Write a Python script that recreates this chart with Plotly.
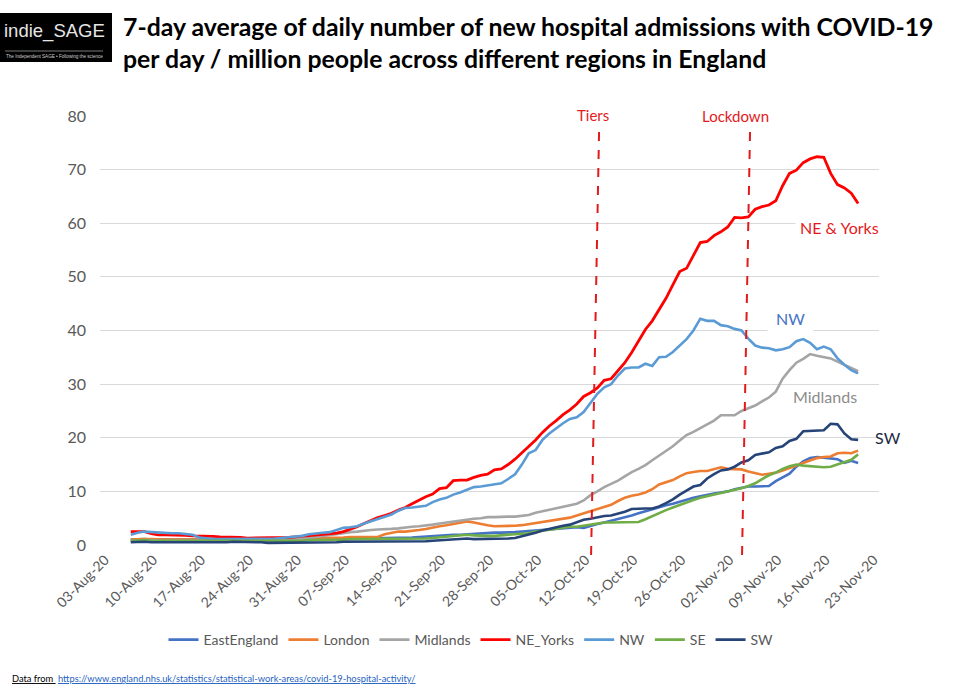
import pandas as pd
import plotly.graph_objects as go

# ---------------- data (7-day average admissions per million) ----------------
start_date = "2020-08-06"
n_days = 107

east_england = [
    1.0, 1.1, 1.1, 1.0, 1.0, 0.9, 0.9,
    0.9, 0.9, 0.9, 0.9, 0.9, 0.9, 0.9,
    0.9, 0.9, 1.0, 1.0, 1.0, 1.0, 0.9,
    0.9, 0.9, 0.9, 0.9, 0.9, 1.0, 1.0,
    1.0, 1.0, 1.1, 1.1, 1.1, 1.2, 1.2,
    1.2, 1.2, 1.3, 1.3, 1.3, 1.4, 1.4,
    1.5, 1.6, 1.7, 1.7, 1.8, 1.9, 1.9,
    2.0, 2.0, 2.1, 2.2, 2.3, 2.3, 2.3,
    2.4, 2.5, 2.6, 2.7, 2.8, 3.0, 3.1,
    3.2, 3.3, 3.3, 3.2, 3.6, 3.9, 4.2,
    4.5, 4.9, 5.2, 5.5, 5.9, 6.3, 6.7,
    7.0, 7.4, 7.7, 8.1, 8.5, 8.8, 9.1,
    9.4, 9.6, 9.8, 10.0, 10.4, 10.7, 10.9,
    10.9, 10.9, 11.0, 11.9, 12.6, 13.3, 14.6,
    15.6, 16.2, 16.4, 16.3, 16.1, 16.0, 15.3,
    15.7, 15.3,
]

london = [
    1.0, 1.1, 1.1, 1.1, 1.0, 1.0, 1.0,
    1.0, 1.0, 1.0, 1.0, 1.0, 1.0, 1.0,
    0.9, 0.9, 0.9, 0.9, 0.9, 0.9, 0.9,
    0.9, 1.0, 1.0, 1.0, 1.1, 1.1, 1.2,
    1.3, 1.3, 1.4, 1.4, 1.5, 1.5, 1.5,
    1.5, 1.5, 2.0, 2.3, 2.5, 2.5, 2.6,
    2.8, 3.0, 3.3, 3.5, 3.7, 3.9, 4.2,
    4.4, 4.2, 3.9, 3.7, 3.5, 3.5, 3.5,
    3.6, 3.7, 3.9, 4.1, 4.3, 4.5, 4.6,
    4.8, 5.1, 5.5, 5.9, 6.3, 6.7, 7.1,
    7.5, 8.2, 8.8, 9.2, 9.4, 9.8, 10.4,
    11.3, 11.7, 12.1, 12.8, 13.4, 13.6, 13.8,
    13.8, 14.2, 14.5, 14.2, 14.2, 14.1, 13.7,
    13.4, 13.1, 13.3, 13.5, 13.9, 14.3, 14.8,
    15.3, 15.7, 16.2, 16.4, 16.5, 17.1, 17.2,
    17.1, 17.6,
]

midlands = [
    0.8, 0.9, 0.9, 0.9, 0.8, 0.8, 0.8,
    0.8, 0.8, 0.8, 0.8, 0.8, 0.8, 0.8,
    0.8, 0.9, 0.9, 0.9, 0.8, 0.8, 0.8,
    0.8, 0.9, 0.9, 1.0, 1.1, 1.3, 1.5,
    1.7, 1.9, 2.1, 2.3, 2.4, 2.5, 2.7,
    2.8, 2.9, 2.9, 3.0, 3.1, 3.3, 3.4,
    3.5, 3.6, 3.8, 4.0, 4.2, 4.4, 4.6,
    4.8, 4.9, 5.0, 5.2, 5.2, 5.3, 5.3,
    5.3, 5.4, 5.6, 6.0, 6.3, 6.6, 6.9,
    7.1, 7.4, 7.7, 8.3, 9.3, 10.0, 10.8,
    11.4, 12.0, 12.8, 13.6, 14.2, 14.9, 15.8,
    16.7, 17.6, 18.4, 19.5, 20.5, 21.1, 21.8,
    22.5, 23.2, 24.2, 24.2, 24.2, 25.0, 25.5,
    26.0, 26.8, 27.5, 28.6, 31.0, 32.6, 34.0,
    34.7, 35.6, 35.3, 35.1, 34.8, 34.2, 33.6,
    33.0, 32.4,
]

ne_yorks = [
    2.5, 2.5, 2.5, 2.1, 1.9, 1.9, 1.9,
    1.8, 1.8, 1.7, 1.7, 1.6, 1.6, 1.5,
    1.5, 1.4, 1.4, 1.3, 1.3, 1.4, 1.4,
    1.4, 1.3, 1.4, 1.5, 1.6, 1.7, 1.8,
    1.9, 2.0, 2.2, 2.5, 2.9, 3.4, 4.0,
    4.6, 5.1, 5.5, 5.9, 6.5, 7.0, 7.7,
    8.4, 9.0, 9.5, 10.5, 10.7, 12.0, 12.1,
    12.1, 12.6, 13.0, 13.2, 14.0, 14.2, 15.0,
    16.0, 17.2, 18.4, 19.6, 21.0, 22.2, 23.2,
    24.3, 25.2, 26.3, 27.7, 28.4, 29.3, 30.7,
    31.0, 32.5, 34.0, 35.9, 38.0, 40.2, 41.8,
    43.9, 46.0, 48.5, 51.0, 51.6, 54.1, 56.4,
    56.6, 57.7, 58.4, 59.3, 61.1, 61.0, 61.2,
    62.6, 63.1, 63.4, 64.2, 67.0, 69.3, 69.9,
    71.3, 72.0, 72.4, 72.3, 69.3, 67.2, 66.6,
    65.6, 63.7,
]

nw = [
    1.9, 2.3, 2.5, 2.4, 2.3, 2.2, 2.2,
    2.2, 2.1, 1.9, 1.4, 1.2, 1.1, 1.1,
    1.1, 1.1, 1.1, 1.1, 1.1, 1.1, 1.2,
    1.2, 1.3, 1.4, 1.5, 1.7, 2.0, 2.2,
    2.3, 2.4, 2.8, 3.2, 3.3, 3.5, 4.0,
    4.4, 4.9, 5.3, 5.7, 6.4, 6.9, 7.0,
    7.1, 7.3, 8.0, 8.5, 8.8, 9.4, 9.8,
    10.3, 10.8, 10.9, 11.1, 11.4, 11.5, 12.3,
    13.2, 15.0, 17.1, 17.7, 19.6, 20.8, 21.8,
    22.7, 23.5, 23.8, 24.8, 26.6, 28.2, 29.4,
    30.0, 31.6, 32.9, 33.1, 33.1, 33.8, 33.4,
    35.0, 35.1, 36.0, 37.2, 38.4, 40.0, 42.2,
    41.8, 41.8, 41.0, 40.8, 40.3, 40.0, 38.5,
    37.2, 36.8, 36.7, 36.3, 36.5, 36.9, 38.0,
    38.4, 37.7, 36.5, 37.0, 36.5, 34.8, 33.6,
    32.6, 32.0,
]

se = [
    0.8, 0.9, 0.9, 0.8, 0.8, 0.8, 0.8,
    0.8, 0.8, 0.8, 0.8, 0.8, 0.8, 0.8,
    0.8, 0.8, 0.7, 0.7, 0.7, 0.8, 0.8,
    0.8, 0.8, 0.8, 0.8, 0.8, 0.9, 0.9,
    0.9, 1.0, 1.0, 1.0, 1.1, 1.1, 1.1,
    1.2, 1.2, 1.2, 1.2, 1.1, 1.1, 1.1,
    1.1, 1.2, 1.3, 1.4, 1.5, 1.6, 1.7,
    1.9, 1.8, 1.7, 1.7, 1.7, 1.8, 1.9,
    1.9, 2.0, 2.2, 2.5, 2.7, 2.9, 3.1,
    3.3, 3.4, 3.4, 3.6, 3.7, 3.9, 4.2,
    4.2, 4.2, 4.3, 4.3, 4.3, 4.8, 5.4,
    6.0, 6.5, 7.0, 7.5, 8.0, 8.4, 8.8,
    9.1, 9.4, 9.7, 9.9, 10.2, 10.6, 11.0,
    11.5, 12.3, 13.0, 13.5, 14.2, 14.7, 15.0,
    14.8, 14.7, 14.5, 14.5, 14.6, 15.0, 15.4,
    15.9, 16.9,
]

sw = [
    0.5, 0.6, 0.6, 0.5, 0.5, 0.5, 0.5,
    0.5, 0.4, 0.4, 0.4, 0.5, 0.5, 0.5,
    0.5, 0.6, 0.6, 0.5, 0.5, 0.5, 0.4,
    0.4, 0.4, 0.4, 0.4, 0.4, 0.4, 0.5,
    0.5, 0.5, 0.5, 0.6, 0.6, 0.6, 0.6,
    0.6, 0.6, 0.6, 0.6, 0.6, 0.6, 0.6,
    0.6, 0.7, 0.8, 0.9, 1.0, 1.1, 1.2,
    1.2, 1.1, 1.1, 1.1, 1.1, 1.1, 1.2,
    1.3, 1.6, 1.9, 2.3, 2.7, 3.0, 3.4,
    3.6, 3.8, 4.3, 4.7, 4.9, 5.2, 5.4,
    5.5, 5.8, 6.2, 6.7, 6.8, 6.8, 6.8,
    7.2, 7.8, 8.5, 9.4, 10.2, 10.9, 11.2,
    12.4, 13.2, 13.9, 14.1, 14.6, 15.4, 15.8,
    16.8, 17.0, 17.3, 18.1, 18.4, 19.4, 19.8,
    21.2, 21.3, 21.4, 21.4, 22.6, 22.5, 20.8,
    19.7, 19.6,
]

series_names = ["EastEngland", "London", "Midlands", "NE_Yorks", "NW", "SE", "SW"]
series_values = [east_england, london, midlands, ne_yorks, nw, se, sw]
series_colors = ["#4472C4", "#ED7D31", "#A5A5A5", "#FF0000", "#5B9BD5", "#70AD47", "#264478"]

tick_dates = pd.date_range("2020-08-03", "2020-11-23", freq="7D")
y_ticks = list(range(0, 81, 10))

# event markers (dashed lines: bottom date, top date)
event_labels = ["Tiers", "Lockdown"]
event_bottom = ["2020-10-12 02:00", "2020-11-03 02:00"]
event_top = ["2020-10-13 06:00", "2020-11-04 06:00"]

dates = pd.date_range(start_date, periods=n_days, freq="D")

# ---------------- layout geometry ----------------
W, H = 955, 690
L, T = 100, 116
R_EDGE = 879
B_EDGE = 545
PW, PH = R_EDGE - L, B_EDGE - T


def px(x):
    return (x - L) / PW


def py(y):
    return (B_EDGE - y) / PH


FONT = "Lato, 'Open Sans', sans-serif"
GRAY = "#595959"

fig = go.Figure()
for name, vals, col in zip(series_names, series_values, series_colors):
    fig.add_trace(go.Scatter(
        x=dates, y=vals, name=name, mode="lines",
        line=dict(color=col, width=2.8 if name == "NE_Yorks" else 2.6),
    ))

shapes = []
for b, t in zip(event_bottom, event_top):
    shapes.append(dict(type="line", xref="x", yref="paper",
                       x0=b, x1=t, y0=py(555), y1=py(131),
                       line=dict(color="#E31A1C", width=2, dash="dash"),
                       layer="above"))
# logo box
shapes.append(dict(type="rect", xref="paper", yref="paper",
                   x0=px(0), x1=px(112), y0=py(62), y1=py(13),
                   fillcolor="#000000", line=dict(width=0), layer="above"))
shapes.append(dict(type="line", xref="paper", yref="paper",
                   x0=px(5), x1=px(103), y0=py(51), y1=py(51),
                   line=dict(color="#9a9a9a", width=0.8), layer="above"))

annotations = [
    dict(text="7-day average of daily number of new hospital admissions with COVID-19<br>"
              "per day / million people across different regions in England",
         xref="paper", yref="paper", x=px(121), y=py(10), xanchor="left", yanchor="top",
         align="left", showarrow=False,
         font=dict(family=FONT, size=24.8, color="#000000", weight="bold")),
    dict(text="indie_SAGE", xref="paper", yref="paper", x=px(54), y=py(31),
         xanchor="center", yanchor="middle", showarrow=False,
         font=dict(family="'Liberation Sans', Arial, sans-serif", size=18.5, color="#e6e6e6")),
    dict(text="The Independent SAGE • Following the science", xref="paper", yref="paper",
         x=px(54), y=py(56.5), xanchor="center", yanchor="middle", showarrow=False,
         font=dict(family="'Liberation Sans', Arial, sans-serif", size=4.6, color="#cfcfcf")),
    dict(text="Tiers", xref="paper", yref="paper", x=px(593), y=py(115),
         xanchor="center", yanchor="middle", showarrow=False, bgcolor="#ffffff",
         borderpad=3, font=dict(family=FONT, size=15, color="#E31A1C")),
    dict(text="Lockdown", xref="paper", yref="paper", x=px(735), y=py(116),
         xanchor="center", yanchor="middle", showarrow=False, bgcolor="#ffffff",
         borderpad=3, font=dict(family=FONT, size=15, color="#E31A1C")),
    dict(text="NE &amp; Yorks", xref="paper", yref="paper", x=px(839), y=py(227),
         xanchor="center", yanchor="middle", showarrow=False, bgcolor="#ffffff",
         borderpad=4, font=dict(family=FONT, size=16, color="#E31A1C")),
    dict(text="NW", xref="paper", yref="paper", x=px(790), y=py(318),
         xanchor="center", yanchor="middle", showarrow=False, bgcolor="#ffffff",
         borderpad=8, font=dict(family=FONT, size=16, color="#4472C4")),
    dict(text="Midlands", xref="paper", yref="paper", x=px(825), y=py(396),
         xanchor="center", yanchor="middle", showarrow=False,
         font=dict(family=FONT, size=16, color="#8c8c8c")),
    dict(text="SW", xref="paper", yref="paper", x=px(888), y=py(437),
         xanchor="center", yanchor="middle", showarrow=False,
         font=dict(family=FONT, size=16, color="#1a2a44")),
    dict(text="<span style='color:#000000'><u>Data from </u></span> "
              "<u>https://www.england.nhs.uk/statistics/statistical-work-areas/covid-19-hospital-activity/</u>",
         xref="paper", yref="paper", x=px(10), y=py(678), xanchor="left", yanchor="middle",
         showarrow=False, font=dict(family=FONT, size=9.3, color="#1f5fbf")),
]

fig.update_layout(
    width=W, height=H,
    margin=dict(l=L, r=W - R_EDGE, t=T, b=H - B_EDGE, pad=0),
    paper_bgcolor="#ffffff", plot_bgcolor="#ffffff",
    font=dict(family=FONT, color=GRAY),
    showlegend=True,
    legend=dict(orientation="h", xanchor="center", yanchor="middle",
                x=px(471), y=py(640), itemwidth=30,
                font=dict(family=FONT, size=14, color=GRAY),
                tracegroupgap=0, traceorder="normal"),
    shapes=shapes, annotations=annotations,
)
fig.update_xaxes(
    range=[pd.Timestamp("2020-08-01 12:30"), pd.Timestamp("2020-11-23 01:00")],
    tickvals=tick_dates, tickformat="%d-%b-%y", tickangle=-45,
    tickfont=dict(family=FONT, size=14, color=GRAY),
    showgrid=False, showline=False, zeroline=False, ticks="",
    ticklabelstandoff=3, ticklabelshift=-5,
)
fig.update_yaxes(
    range=[0, 80], tickvals=y_ticks,
    tickfont=dict(family=FONT, size=16, color=GRAY),
    showgrid=True, gridcolor="#D9D9D9", gridwidth=1,
    zeroline=False, showline=False, ticks="", ticklabelstandoff=13,
)

fig.write_html("out.html", config={"displayModeBar": False},
               post_script="document.body.style.margin='0px';")
